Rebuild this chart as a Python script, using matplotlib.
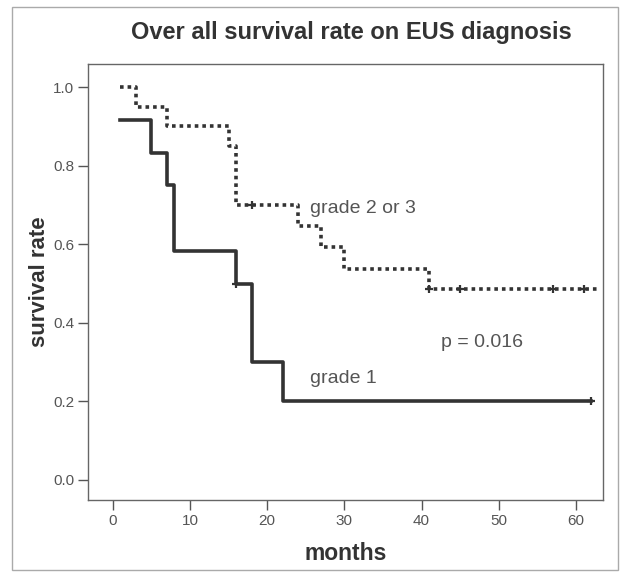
import matplotlib
matplotlib.use("Agg")
import matplotlib.pyplot as plt
from matplotlib.patches import Rectangle

plt.rcParams['font.family'] = ['Liberation Sans', 'DejaVu Sans']

# Kaplan-Meier step data (time, survival after step)
g1_t = [1, 5, 7, 8, 16, 18, 22, 62]
g1_s = [0.917, 0.833, 0.75, 0.583, 0.50, 0.30, 0.20, 0.20]
g1_cens_t = [16, 62]
g1_cens_s = [0.50, 0.20]

g23_t = [1, 3, 7, 15, 16, 24, 27, 30, 41, 63]
g23_s = [1.0, 0.95, 0.90, 0.85, 0.70, 0.647, 0.594, 0.538, 0.485, 0.485]
g23_cens_t = [18, 41, 45, 57, 61]
g23_cens_s = [0.70, 0.485, 0.485, 0.485, 0.485]

xticks = [0, 10, 20, 30, 40, 50, 60]
yticks = [0.0, 0.2, 0.4, 0.6, 0.8, 1.0]

W, H = 624, 572
fig = plt.figure(figsize=(W/100, H/100), dpi=100)
fig.patches.append(Rectangle((12/W, 1 - 570/H), (618-12)/W, (570-7)/H,
                             transform=fig.transFigure, fill=False,
                             edgecolor='#aaaaaa', lw=1.0))
L, R, T, B = 88, 603, 63.5, 500
ax = fig.add_axes([L/W, 1 - B/H, (R-L)/W, (B-T)/H])

col = '#333333'
ax.step(g1_t, g1_s, where='post', color=col, lw=2.6)
ax.step(g23_t, g23_s, where='post', color=col, lw=2.6, linestyle=(0, (1, 1.1)))
ax.plot(g1_cens_t, g1_cens_s, '+', color=col, ms=6, mew=1.6)
ax.plot(g23_cens_t, g23_cens_s, '+', color=col, ms=6, mew=1.6)

ax.set_xlim(-3.2, 63.5)
ax.set_ylim(-0.051, 1.06)
ax.set_xticks(xticks)
ax.set_yticks(yticks)
ax.set_xticklabels([str(v) for v in xticks])
ax.set_yticklabels([f"{v:.1f}" for v in yticks])
ax.tick_params(direction='out', length=7, width=1, color='#555555',
               labelcolor='#555555', labelsize=11, pad=3)
for s in ax.spines.values():
    s.set_color('#666666')
    s.set_linewidth(1)

ax.text(25.5, 0.692, "grade 2 or 3", fontsize=14, color='#555555', va='center')
ax.text(25.5, 0.257, "grade 1", fontsize=14, color='#555555', va='center')
ax.text(42.5, 0.351, "p = 0.016", fontsize=14, color='#555555', va='center')

ax.set_xlabel("months", fontsize=16.5, fontweight='bold', color='#333333', labelpad=10)
ax.set_ylabel("survival rate", fontsize=16, fontweight='bold', color='#333333', labelpad=2)
fig.text(351/W, 1 - 33/H, "Over all survival rate on EUS diagnosis", fontsize=17,
         fontweight='bold', color='#333333', ha='center', va='center')

fig.savefig("out.png", dpi=100)
